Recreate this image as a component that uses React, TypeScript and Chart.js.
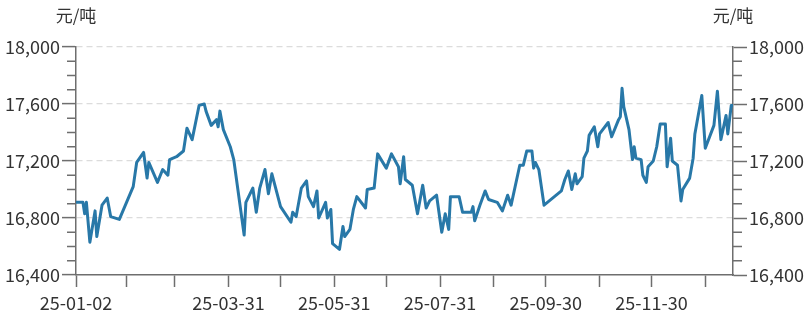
import React, { useEffect, useRef } from "react";
import { Chart, registerables } from "chart.js";

Chart.register(...registerables);

// ---- data ----
const dates: string[] = [
  "2025-01-02", "2025-01-06", "2025-01-07", "2025-01-08", "2025-01-10", "2025-01-13", "2025-01-14",
  "2025-01-17", "2025-01-20", "2025-01-22", "2025-01-27", "2025-02-04", "2025-02-06", "2025-02-10",
  "2025-02-12", "2025-02-13", "2025-02-18", "2025-02-21", "2025-02-24", "2025-02-25", "2025-03-01",
  "2025-03-05", "2025-03-07", "2025-03-10", "2025-03-14", "2025-03-17", "2025-03-18", "2025-03-21",
  "2025-03-24", "2025-03-25", "2025-03-26", "2025-03-28", "2025-04-01", "2025-04-03", "2025-04-09",
  "2025-04-10", "2025-04-14", "2025-04-16", "2025-04-18", "2025-04-21", "2025-04-23", "2025-04-25",
  "2025-04-30", "2025-05-06", "2025-05-07", "2025-05-09", "2025-05-12", "2025-05-15", "2025-05-16",
  "2025-05-19", "2025-05-21", "2025-05-22", "2025-05-26", "2025-05-27", "2025-05-29", "2025-05-30",
  "2025-06-03", "2025-06-05", "2025-06-06", "2025-06-09", "2025-06-11", "2025-06-13", "2025-06-18",
  "2025-06-19", "2025-06-23", "2025-06-25", "2025-06-30", "2025-07-03", "2025-07-07", "2025-07-08",
  "2025-07-10", "2025-07-11", "2025-07-15", "2025-07-18", "2025-07-21", "2025-07-23", "2025-07-25",
  "2025-07-29", "2025-08-01", "2025-08-03", "2025-08-05", "2025-08-06", "2025-08-11", "2025-08-13",
  "2025-08-18", "2025-08-19", "2025-08-20", "2025-08-23", "2025-08-26", "2025-08-28", "2025-09-02",
  "2025-09-05", "2025-09-08", "2025-09-10", "2025-09-15", "2025-09-17", "2025-09-19", "2025-09-22",
  "2025-09-23", "2025-09-24", "2025-09-26", "2025-09-29", "2025-10-09", "2025-10-11", "2025-10-13",
  "2025-10-15", "2025-10-17", "2025-10-18", "2025-10-21", "2025-10-22", "2025-10-24", "2025-10-25",
  "2025-10-28", "2025-10-30", "2025-10-31", "2025-11-05", "2025-11-07", "2025-11-11", "2025-11-12",
  "2025-11-13", "2025-11-14", "2025-11-17", "2025-11-19", "2025-11-20", "2025-11-21", "2025-11-24",
  "2025-11-25", "2025-11-27", "2025-11-28", "2025-12-01", "2025-12-03", "2025-12-05", "2025-12-08",
  "2025-12-09", "2025-12-11", "2025-12-12", "2025-12-15", "2025-12-17", "2025-12-18", "2025-12-22",
  "2025-12-24", "2025-12-25", "2025-12-29", "2025-12-31", "2026-01-05", "2026-01-07", "2026-01-09",
  "2026-01-12", "2026-01-13", "2026-01-15", "2026-01-16",
];

const prices: number[] = [
  16910, 16910, 16830, 16910, 16630, 16850, 16670,
  16890, 16940, 16810, 16790, 17020, 17190, 17260,
  17080, 17190, 17050, 17140, 17100, 17210, 17230,
  17270, 17430, 17350, 17590, 17600, 17550, 17450,
  17490, 17440, 17550, 17420, 17300, 17210, 16680,
  16910, 17010, 16840, 17010, 17140, 16970, 17110,
  16880, 16770, 16840, 16810, 17010, 17060, 16950,
  16880, 16990, 16800, 16910, 16800, 16860, 16620,
  16580, 16740, 16670, 16720, 16860, 16950, 16870,
  17000, 17010, 17250, 17150, 17250, 17160, 17040,
  17230, 17070, 17030, 16830, 17030, 16870, 16920,
  16960, 16700, 16830, 16720, 16950, 16950, 16840,
  16840, 16880, 16780, 16890, 16990, 16930, 16910,
  16850, 16960, 16890, 17170, 17170, 17270, 17270,
  17150, 17190, 17140, 16890, 16990, 17070, 17130,
  17000, 17110, 17040, 17090, 17220, 17270, 17380,
  17440, 17300, 17390, 17470, 17370, 17490, 17510,
  17710, 17580, 17420, 17210, 17300, 17220, 17210,
  17100, 17050, 17160, 17200, 17300, 17460, 17460,
  17160, 17360, 17200, 17170, 16920, 17000, 17080,
  17220, 17390, 17660, 17290, 17450, 17690, 17350,
  17520, 17390, 17590, 17590,
];

// x-axis tick positions (month ends) and which of them carry a label
const xTickDates: string[] = [
  "2025-01-02", "2025-01-31", "2025-02-28", "2025-03-31", "2025-04-30", "2025-05-31", "2025-06-30",
  "2025-07-31", "2025-08-31", "2025-09-30", "2025-10-31", "2025-11-30", "2025-12-31",
];
const xLabelDates: string[] = [
  "2025-01-02", "2025-03-31", "2025-05-31", "2025-07-31", "2025-09-30", "2025-11-30",
];

const yMin = 16400;
const yMax = 18000;
const yMajorStep = 400;
const yMinorStep = 100;
const unitLabel = "元/吨";

// ---- helpers ----
const toUTC = (s: string) => {
  const [y, m, d] = s.split("-").map(Number);
  return Date.UTC(y, m - 1, d);
};
const base = toUTC(dates[0]);
const dayOf = (s: string) => Math.round((toUTC(s) - base) / 86400000);

const FONT = '"Noto Sans CJK SC", "Noto Sans", sans-serif';
const AXIS_COLOR = "#6e6e6e";
const TEXT_COLOR = "#333";

const extrasPlugin = {
  id: "extras",
  afterDraw(chart: any) {
    const { ctx, chartArea, scales } = chart;
    ctx.save();
    ctx.strokeStyle = AXIS_COLOR;
    ctx.lineWidth = 1.5;
    const minorLen = 9;
    for (let v = yMin; v <= yMax; v += yMinorStep) {
      if (v % yMajorStep === 0) continue;
      const yl = scales.y.getPixelForValue(v);
      const yr = scales.y2.getPixelForValue(v);
      ctx.beginPath();
      ctx.moveTo(chartArea.left - minorLen, yl);
      ctx.lineTo(chartArea.left, yl);
      ctx.moveTo(chartArea.right, yr);
      ctx.lineTo(chartArea.right + minorLen, yr);
      ctx.stroke();
    }
    ctx.fillStyle = TEXT_COLOR;
    ctx.font = `17px ${FONT}`;
    ctx.textAlign = "center";
    ctx.textBaseline = "middle";
    ctx.fillText(unitLabel, chartArea.left, 16);
    ctx.fillText(unitLabel, chartArea.right, 16);
    ctx.restore();
  },
};

export default function App() {
  const ref = useRef<HTMLCanvasElement | null>(null);

  useEffect(() => {
    document.body.style.margin = "0";
    if (!ref.current) return;
    const labelSet = new Set(xLabelDates.map(dayOf));
    const labelText: Record<number, string> = {};
    xLabelDates.forEach((d) => (labelText[dayOf(d)] = d.slice(2)));

    const chart = new Chart(ref.current, {
      type: "line",
      data: {
        datasets: [
          {
            data: dates.map((d, i) => ({ x: dayOf(d), y: prices[i] })),
            borderColor: "#2878a8",
            borderWidth: 3,
            pointRadius: 0,
            tension: 0,
            fill: false,
            borderJoinStyle: "round",
          },
        ],
      },
      options: {
        animation: false,
        responsive: false,
        layout: { padding: { top: 47, left: 0, right: 0, bottom: 0 } },
        plugins: { legend: { display: false }, tooltip: { enabled: false } },
        scales: {
          x: {
            type: "linear",
            min: 0,
            max: dayOf(dates[dates.length - 1]),
            afterBuildTicks: (scale: any) => {
              scale.ticks = xTickDates.map((d) => ({ value: dayOf(d) }));
            },
            afterFit: (scale: any) => {
              scale.height = 42;
            },
            ticks: {
              autoSkip: false,
              maxRotation: 0,
              padding: 5,
              color: TEXT_COLOR,
              font: { family: FONT, size: 18 },
              callback: (v: any) => (labelSet.has(v) ? labelText[v] : ""),
            },
            grid: {
              drawOnChartArea: false,
              drawTicks: true,
              tickLength: 12,
              tickColor: AXIS_COLOR,
              tickWidth: 1.5,
            },
            border: { display: true, color: AXIS_COLOR, width: 1.5 },
          },
          y: {
            type: "linear",
            position: "left",
            min: yMin,
            max: yMax,
            afterFit: (scale: any) => {
              scale.width = 76;
            },
            ticks: {
              stepSize: yMajorStep,
              padding: 2,
              color: TEXT_COLOR,
              font: { family: FONT, size: 18 },
              callback: (v: any) => Number(v).toLocaleString("en-US"),
            },
            grid: {
              drawOnChartArea: true,
              drawTicks: true,
              tickLength: 14,
              tickColor: AXIS_COLOR,
              tickWidth: 1.5,
              color: (c: any) => (c.tick && c.tick.value === yMin ? "rgba(0,0,0,0)" : "#dcdcdc"),
              lineWidth: 1.2,
            },
            border: { display: true, color: AXIS_COLOR, width: 1.5, dash: [6, 4] },
          },
          y2: {
            type: "linear",
            position: "right",
            min: yMin,
            max: yMax,
            afterFit: (scale: any) => {
              scale.width = 77;
            },
            ticks: {
              stepSize: yMajorStep,
              padding: 2,
              color: TEXT_COLOR,
              font: { family: FONT, size: 18 },
              callback: (v: any) => Number(v).toLocaleString("en-US"),
            },
            grid: {
              drawOnChartArea: false,
              drawTicks: true,
              tickLength: 14,
              tickColor: AXIS_COLOR,
              tickWidth: 1.5,
            },
            border: { display: true, color: AXIS_COLOR, width: 1.5 },
          },
        },
      },
      plugins: [extrasPlugin],
    } as any);
    return () => chart.destroy();
  }, []);

  return (
    <div style={{ width: 810, height: 317 }}>
      <canvas ref={ref} width={810} height={317} />
    </div>
  );
}
